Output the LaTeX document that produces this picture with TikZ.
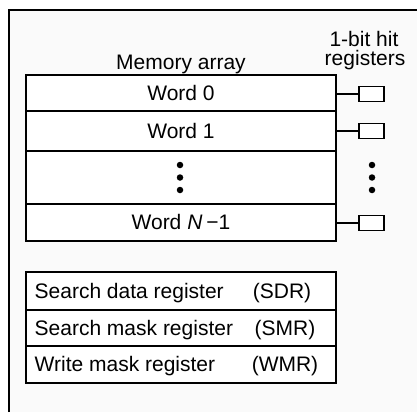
\documentclass[tikz,border=0pt]{standalone}
\usepackage{fontspec}
\setmainfont{Liberation Sans}
\usetikzlibrary{positioning}
\definecolor{cambg}{HTML}{FAFAFA}

\begin{document}
\begin{tikzpicture}[
    x=1pt, y=-1pt,
    font=\fontsize{21}{25}\selectfont,
    row/.style={draw, line width=1.1pt, fill=white, minimum width=310pt,
                inner sep=0pt, text height=14pt, text depth=0pt},
    hit/.style={draw, line width=1.1pt, fill=white, minimum width=25pt,
                minimum height=15pt, inner sep=0pt},
    dot/.style={circle, fill=black, inner sep=0pt, minimum size=6.5pt},
    lab/.style={inner sep=0pt, anchor=base},
    reg/.style={inner sep=0pt, text height=14pt, text depth=0pt},
    wire/.style={line width=1.1pt}
  ]
  \useasboundingbox (0,0) rectangle (417,412);
  \fill[cambg] (9,10) rectangle (417,412);
  \draw[line width=2.6pt] (9,412) -- (9,10) -- (417,10);

  % memory array
  \node[lab] (mlab) at (181,69) {Memory array};
  \node[row, minimum height=36pt] (w0) at (181,93) {Word 0};
  \node[row, minimum height=40pt] (w1) at (181,131) {Word 1};
  \node[row, minimum height=53pt] (wd) at (181,177.5) {};
  \node[row, minimum height=37pt] (wn) at (181,222.5) {Word \textit{N}\kern4pt−1};

  % hit bits
  \node[lab] (hlab1) at (364,46) {1-bit hit};
  \node[lab] (hlab2) at (365,66) {registers};
  \node[hit] (h0) at (371.5,94) {};
  \node[hit] (h1) at (371.5,131) {};
  \node[hit] (hn) at (371.5,223) {};
  \draw[wire] (h0.west -| w0.east) -- (h0.west);
  \draw[wire] (h1.west -| w1.east) -- (h1.west);
  \draw[wire] (hn.west -| wn.east) -- (hn.west);

  \foreach \i/\y in {1/165,2/177.5,3/190} {
    \node[dot] (md\i) at (180,\y) {};
    \node[dot] (hd\i) at (372,\y) {};
  }

  % search / mask registers
  \node[row, minimum height=38pt] (sdr) at (181,291) {};
  \node[row, minimum height=36pt] (smr) at (181,328) {};
  \node[row, minimum height=37pt] (wmr) at (181,364.5) {};
  \node[reg, anchor=west] (sdrt) at ([xshift=9pt]sdr.west) {Search data register};
  \node[reg, anchor=west] (smrt) at ([xshift=9pt]smr.west) {Search mask register};
  \node[reg, anchor=west] (wmrt) at ([xshift=9pt]wmr.west) {Write mask register};
  \node[reg] (sdra) at (282,291) {(SDR)};
  \node[reg] (smra) at (285,328) {(SMR)};
  \node[reg] (wmra) at (285,364.5) {(WMR)};
\end{tikzpicture}
\end{document}
